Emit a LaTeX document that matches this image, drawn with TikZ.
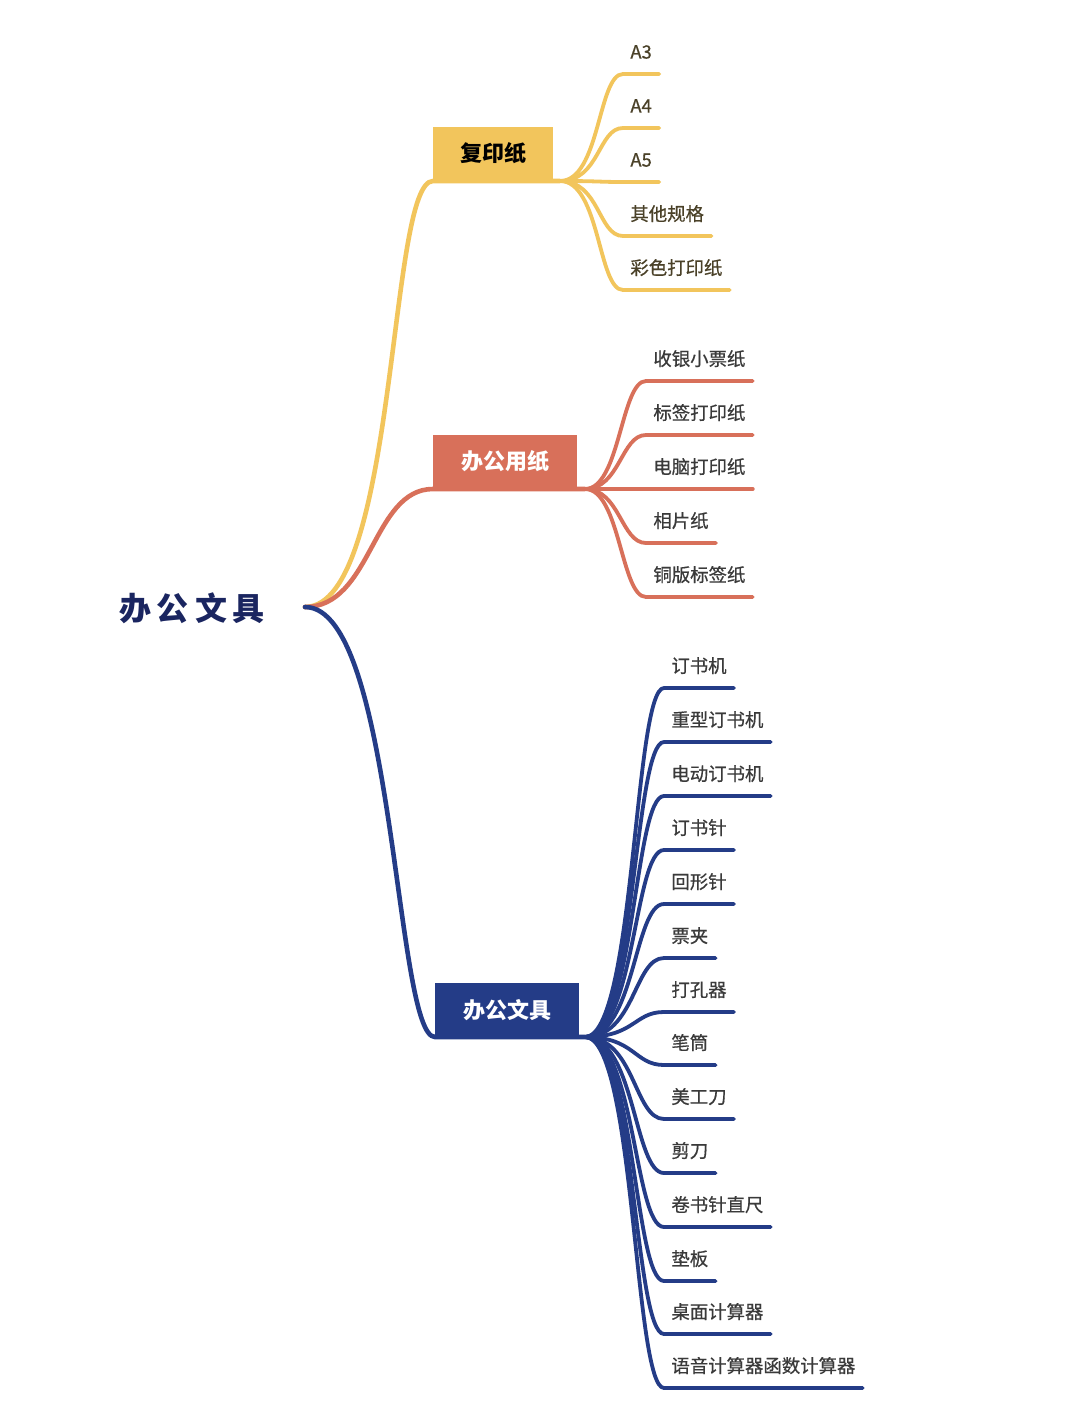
\documentclass[tikz,border=0pt]{standalone}
\usepackage{fontspec}
\setmainfont{Noto Sans CJK SC}
\newfontfamily\lblfont[FakeBold=0.6]{Noto Sans CJK SC}
\definecolor{cY}{HTML}{F2C55C}
\definecolor{cO}{HTML}{D8705A}
\definecolor{cB}{HTML}{243C87}
\definecolor{cRoot}{HTML}{1A2560}
\definecolor{tY}{HTML}{4A4128}
\definecolor{tG}{HTML}{3A3A3A}
\begin{document}
\begin{tikzpicture}[x=0.5pt,y=-0.5pt,
  mainln/.style={line width=2.3pt,line cap=round},
  kidln/.style={line width=1.9pt,line cap=round},
  lbl/.style={anchor=south west,inner xsep=3.5pt,inner ysep=5.5pt,text depth=2pt,
    font=\lblfont\fontsize{9.2pt}{11pt}\selectfont},
  catbox/.style={anchor=south west,inner sep=0pt,minimum height=27pt,
    font=\bfseries\fontsize{11pt}{13pt}\selectfont}]
\fill[white] (0,0) rectangle (1080,1418);
\path[use as bounding box] (0,0) rectangle (1080,1418);
% root
\node[font=\bfseries\fontsize{16pt}{18pt}\selectfont,text=cRoot,inner sep=0pt] (root) at (192,608) {办\hspace{3pt}公\hspace{3pt}文\hspace{3pt}具};
\coordinate (r) at (305,607);
% category boxes
\node[catbox,fill=cY,minimum width=60pt,text=black] (bY) at (433,181) {复印纸};
\node[catbox,fill=cO,minimum width=72pt,text=white] (bO) at (433,489) {办公用纸};
\node[catbox,fill=cB,minimum width=72pt,text=white] (bB) at (435,1037) {办公文具};
\coordinate (hY) at (560,181);
\coordinate (hO) at (585,489);
\coordinate (hB) at (585,1037);
% main branches
\draw[mainln,cY] (r) .. controls (398,607) and (388,181) .. (bY.south west) -- (hY);
\draw[mainln,cO] (r) .. controls (372,607) and (372,489) .. (bO.south west) -- (hO);
\draw[mainln,cB] (r) .. controls (395,607) and (395,1037) .. (bB.south west) -- (hB);
% yellow children
\foreach \t/\y [count=\i] in {A3/74,A4/128,A5/182,其他规格/236,彩色打印纸/290}{
  \node[lbl,text=tY] (y\i) at (623,\y) {\t};
  \draw[kidln,cY] (hY) .. controls +(40,0) and +(-25,0) .. (y\i.south west) -- (y\i.south east);
}
% orange children
\foreach \t/\y [count=\i] in {收银小票纸/381,标签打印纸/435,电脑打印纸/489,相片纸/543,铜版标签纸/597}{
  \node[lbl,text=tG] (o\i) at (646,\y) {\t};
  \draw[kidln,cO] (hO) .. controls +(35,0) and +(-25,0) .. (o\i.south west) -- (o\i.south east);
}
% blue children
\foreach \t/\y [count=\i] in {订书机/688,重型订书机/742,电动订书机/796,订书针/850,回形针/904,票夹/958,打孔器/1012,笔筒/1065,美工刀/1119,剪刀/1173,卷书针直尺/1227,垫板/1281,桌面计算器/1334,语音计算器函数计算器/1388}{
  \node[lbl,text=tG] (b\i) at (664,\y) {\t};
  \draw[kidln,cB] (hB) .. controls +(50,0) and +(-30,0) .. (b\i.south west) -- (b\i.south east);
}
\end{tikzpicture}
\end{document}
